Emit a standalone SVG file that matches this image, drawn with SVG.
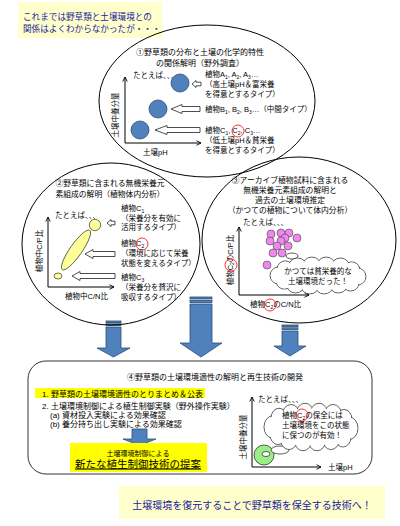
<svg xmlns="http://www.w3.org/2000/svg" width="400" height="526" viewBox="0 0 400 526">
<defs>
<style>
text{font-family:"Liberation Sans","Noto Sans CJK JP",sans-serif;font-size:7.5px;fill:#000}
.t8{font-size:8px}
.ttl{font-size:7.8px}
.blue{fill:#22229a}
.sub{font-size:5px}
.ell{fill:none;stroke:#000;stroke-width:1}
.axis{fill:none;stroke:#000;stroke-width:1;marker-end:url(#ah)}
.hollow{fill:#fff;stroke:#222;stroke-width:0.8}
.big{fill:#4f81bd;stroke:#2c4d75;stroke-width:0.8}
.red{fill:none;stroke:#f00;stroke-width:0.8}
.bdot{fill:#4f81bd;stroke:#2c4d75;stroke-width:0.8}
.ydot{fill:#ffff99;stroke:#333;stroke-width:0.7}
.pdot{fill:#ee88ee;stroke:#444;stroke-width:0.6}
.cs circle{fill:#fff;stroke:#333;stroke-width:0.8}
.cf circle,.cf ellipse{fill:#fff;stroke:none}
.tail{fill:#fff;stroke:#333;stroke-width:0.8}
</style>
<marker id="ah" viewBox="0 0 8 8" refX="7" refY="4" markerWidth="6" markerHeight="6" orient="auto" markerUnits="userSpaceOnUse">
<path d="M1,1 L7,4 L1,7" fill="none" stroke="#000" stroke-width="1.2"/>
</marker>
<g id="cloud">
<g class="cs">
<circle cx="-38" cy="0" r="9" vector-effect="non-scaling-stroke"/>
<circle cx="-32" cy="-7" r="8" vector-effect="non-scaling-stroke"/>
<circle cx="-20" cy="-9" r="9" vector-effect="non-scaling-stroke"/>
<circle cx="-6" cy="-10" r="9" vector-effect="non-scaling-stroke"/>
<circle cx="8" cy="-10" r="9" vector-effect="non-scaling-stroke"/>
<circle cx="22" cy="-9" r="9" vector-effect="non-scaling-stroke"/>
<circle cx="33" cy="-6" r="8" vector-effect="non-scaling-stroke"/>
<circle cx="38" cy="1" r="9" vector-effect="non-scaling-stroke"/>
<circle cx="32" cy="8" r="8" vector-effect="non-scaling-stroke"/>
<circle cx="20" cy="9" r="9" vector-effect="non-scaling-stroke"/>
<circle cx="6" cy="10" r="9" vector-effect="non-scaling-stroke"/>
<circle cx="-8" cy="10" r="9" vector-effect="non-scaling-stroke"/>
<circle cx="-22" cy="9" r="9" vector-effect="non-scaling-stroke"/>
<circle cx="-33" cy="6" r="8" vector-effect="non-scaling-stroke"/>
</g>
<g class="cf">
<circle cx="-38" cy="0" r="8.3"/>
<circle cx="-32" cy="-7" r="7.3"/>
<circle cx="-20" cy="-9" r="8.3"/>
<circle cx="-6" cy="-10" r="8.3"/>
<circle cx="8" cy="-10" r="8.3"/>
<circle cx="22" cy="-9" r="8.3"/>
<circle cx="33" cy="-6" r="7.3"/>
<circle cx="38" cy="1" r="8.3"/>
<circle cx="32" cy="8" r="7.3"/>
<circle cx="20" cy="9" r="8.3"/>
<circle cx="6" cy="10" r="8.3"/>
<circle cx="-8" cy="10" r="8.3"/>
<circle cx="-22" cy="9" r="8.3"/>
<circle cx="-33" cy="6" r="7.3"/>
<ellipse cx="0" cy="0" rx="38" ry="12"/>
</g>
</g>
</defs>

<rect width="400" height="526" fill="#fff"/>

<!-- connectors: big block arrows -->
<g id="connectors">
<rect x="106" y="321" width="15" height="1.6" class="big"/>
<rect x="106" y="323.8" width="15" height="1.6" class="big"/>
<path d="M106,327 H121 V348 H130 L113.5,357 L97,348 H106 Z" class="big"/>
<rect x="190" y="297" width="22" height="2" class="big"/>
<rect x="190" y="300.5" width="22" height="2" class="big"/>
<path d="M190,304 H212 V343 H222 L201,357 L180,343 H190 Z" class="big"/>
<rect x="282" y="325" width="16" height="1.6" class="big"/>
<rect x="282" y="327.8" width="16" height="1.6" class="big"/>
<path d="M282,331 H298 V346 H306 L290,356 L274,346 H282 Z" class="big"/>
</g>

<!-- intro note -->
<g id="intro-note">
<rect x="18" y="2" width="144" height="36" fill="#ffffcc"/>
<text x="23" y="20" class="blue" style="font-size:8.6px">これまでは野草類と土壌環境との</text>
<text x="23" y="32" class="blue" style="font-size:8.6px">関係はよくわからなかったが・・・</text>
</g>

<!-- node 1 -->
<g id="node-field-survey">
<ellipse cx="207" cy="101" rx="108" ry="76" class="ell"/>
<text x="200" y="55" text-anchor="middle" class="t8">①野草類の分布と土壌の化学的特性</text>
<text x="200" y="66" text-anchor="middle" class="t8">の関係解明（野外調査）</text>
<text x="133" y="78">たとえば、、、</text>
<line x1="125" y1="143" x2="125" y2="77" class="axis"/>
<line x1="125" y1="143" x2="201" y2="143" class="axis"/>
<text transform="translate(117.7,115) rotate(-90)" text-anchor="middle">土壌中養分量</text>
<text x="143" y="155">土壌pH</text>
<circle cx="180" cy="83" r="9" class="bdot"/>
<circle cx="158" cy="109" r="9" class="bdot"/>
<circle cx="140" cy="130" r="9" class="bdot"/>
<polygon points="192,84 196,80.5 196,82.2 201,82.2 201,85.8 196,85.8 196,87.5" class="hollow"/>
<polygon points="171,109 182,104.5 182,106.5 200,106.5 200,111.5 182,111.5 182,113.5" class="hollow"/>
<polygon points="155,130 167,125.5 167,127.5 200,127.5 200,132.5 167,132.5 167,134.5" class="hollow"/>
<text x="205" y="77">植物A<tspan class="sub" dy="1.5">1</tspan><tspan dy="-1.5">, A</tspan><tspan class="sub" dy="1.5">2</tspan><tspan dy="-1.5">, A</tspan><tspan class="sub" dy="1.5">3</tspan><tspan dy="-1.5">…</tspan></text>
<text x="205" y="87">（高土壌pH＆富栄養</text>
<text x="205" y="97">を得意とするタイプ）</text>
<text x="205" y="112">植物B<tspan class="sub" dy="1.5">1</tspan><tspan dy="-1.5">, B</tspan><tspan class="sub" dy="1.5">2</tspan><tspan dy="-1.5">, B</tspan><tspan class="sub" dy="1.5">3</tspan><tspan dy="-1.5">…（中間タイプ）</tspan></text>
<text x="205" y="133">植物C<tspan class="sub" dy="1.5">1</tspan><tspan dy="-1.5">,  C</tspan><tspan class="sub" dy="1.5">2</tspan><tspan dy="-1.5">,  C</tspan><tspan class="sub" dy="1.5">3</tspan><tspan dy="-1.5">…</tspan></text>
<text x="205" y="143">（低土壌pH＆貧栄養</text>
<text x="205" y="153">を得意とするタイプ）</text>
<circle cx="238" cy="131" r="6" class="red"/>
</g>

<!-- node 2 -->
<g id="node-plant-analysis">
<ellipse cx="111" cy="244" rx="89" ry="81" class="ell"/>
<text x="110" y="186" text-anchor="middle" class="ttl">②野草類に含まれる無機栄養元</text>
<text x="110" y="197" text-anchor="middle" class="ttl">素組成の解明（植物体内分析）</text>
<text x="55" y="218">たとえば、、、</text>
<line x1="48" y1="287" x2="48" y2="217" class="axis"/>
<line x1="48" y1="287" x2="114" y2="287" class="axis"/>
<text transform="translate(41.7,251) rotate(-90)" text-anchor="middle">植物中C/P比</text>
<text x="65" y="299">植物中C/N比</text>
<circle cx="95" cy="225" r="5.7" class="ydot"/>
<ellipse cx="76" cy="250" rx="24" ry="6" transform="rotate(-55 76 250)" class="ydot"/>
<ellipse cx="58" cy="276" rx="4" ry="3" class="ydot"/>
<polygon points="107,223 111,219.5 111,221.2 115,221.2 115,224.8 111,224.8 111,226.5" class="hollow"/>
<polygon points="85,254 93,249.5 93,251.5 115,251.5 115,256.5 93,256.5 93,258.5" class="hollow"/>
<polygon points="72,276 80,271.5 80,273.5 115,273.5 115,278.5 80,278.5 80,280.5" class="hollow"/>
<text x="121" y="211">植物C<tspan class="sub" dy="1.5">1</tspan></text>
<text x="121" y="221">（栄養分を有効に</text>
<text x="121" y="230">活用するタイプ）</text>
<text x="121" y="246">植物C<tspan class="sub" dy="1.5">2</tspan></text>
<text x="121" y="256">（環境に応じて栄養</text>
<text x="121" y="266">状態を変えるタイプ）</text>
<text x="121" y="280">植物C<tspan class="sub" dy="1.5">3</tspan></text>
<text x="121" y="290">（栄養分を贅沢に</text>
<text x="121" y="300">吸収するタイプ）</text>
<circle cx="142" cy="244" r="6" class="red"/>
</g>

<!-- node 3 -->
<g id="node-archive-analysis">
<ellipse cx="299" cy="240" rx="97" ry="83" class="ell"/>
<text x="290" y="183" text-anchor="middle" class="ttl">③アーカイブ植物試料に含まれる</text>
<text x="290" y="193" text-anchor="middle" class="ttl">無機栄養元素組成の解明と</text>
<text x="290" y="203" text-anchor="middle" class="ttl">過去の土壌環境推定</text>
<text x="290" y="213" text-anchor="middle" class="ttl">（かつての植物について体内分析）</text>
<text x="243" y="225">たとえば、、、</text>
<line x1="239" y1="295" x2="239" y2="227" class="axis"/>
<line x1="239" y1="295" x2="309" y2="295" class="axis"/>
<text transform="translate(232.7,260) rotate(-90)" text-anchor="middle">植物C<tspan class="sub" dy="1.5">2</tspan><tspan dy="-1.5">のC/P比</tspan></text>
<text x="250" y="307">植物C<tspan class="sub" dy="1.5">2</tspan><tspan dy="-1.5">のC/N比</tspan></text>
<circle cx="231" cy="265" r="6" class="red"/>
<circle cx="270" cy="305" r="6" class="red"/>
<circle cx="271" cy="234" r="4" class="pdot"/>
<circle cx="281" cy="233" r="4" class="pdot"/>
<circle cx="289" cy="233" r="4" class="pdot"/>
<circle cx="285" cy="238" r="4" class="pdot"/>
<circle cx="297" cy="238" r="4" class="pdot"/>
<circle cx="270" cy="241" r="4" class="pdot"/>
<circle cx="281" cy="241" r="4" class="pdot"/>
<circle cx="277" cy="246" r="4" class="pdot"/>
<circle cx="288" cy="246" r="4" class="pdot"/>
<circle cx="273" cy="253" r="4" class="pdot"/>
<circle cx="282" cy="253" r="4" class="pdot"/>
<circle cx="267" cy="265" r="4" class="pdot"/>
<ellipse cx="292" cy="256" rx="6" ry="3" class="tail"/>
<use href="#cloud" transform="translate(318,275.5) scale(1.02,0.97)"/>
<text x="318" y="274" text-anchor="middle">かつては貧栄養的な</text>
<text x="318" y="284" text-anchor="middle">土壌環境だった！</text>
</g>

<!-- node 4 -->
<g id="node-regeneration">
<rect x="28" y="361" width="344" height="113" rx="18" ry="18" fill="#fff" stroke="#333" stroke-width="1"/>
<text x="215" y="380" text-anchor="middle" class="t8">④野草類の土壌環境適性の解明と再生技術の開発</text>
<rect x="35" y="388" width="170" height="10" fill="#ffff00"/>
<text x="42" y="396.5" class="t8">1. 野草類の土壌環境適性のとりまとめ＆公表</text>
<text x="42" y="408.5" class="t8">2. 土壌環境制御による植生制御実験（野外操作実験）</text>
<text x="50" y="417.5" class="t8">(a) 資材投入実験による効果確認</text>
<text x="50" y="426.5" class="t8">(b) 養分持ち出し実験による効果確認</text>
<path d="M132,429 H147 V439 H156 L139.5,445.5 L123,439 H132 Z" class="big"/>
<rect x="70" y="443" width="137" height="29" fill="#ffff00"/>
<text x="138" y="456" text-anchor="middle" style="font-size:7px">土壌環境制御による</text>
<text x="138" y="467.5" text-anchor="middle" style="font-size:10.5px" text-decoration="underline">新たな植生制御技術の提案</text>
<text x="258" y="402">たとえば、、、</text>
<line x1="252" y1="467" x2="252" y2="397" class="axis"/>
<line x1="252" y1="467" x2="321" y2="467" class="axis"/>
<text transform="translate(245.7,437) rotate(-90)" text-anchor="middle">土壌中養分量</text>
<text x="328" y="470">土壌pH</text>
<circle cx="264" cy="455" r="10" fill="#99ee88" stroke="#333" stroke-width="0.8"/>
<ellipse cx="266" cy="454" rx="4" ry="2.5" class="tail"/>
<ellipse cx="280" cy="450" rx="9" ry="4" class="tail"/>
<use href="#cloud" transform="translate(311,427) scale(1,1.25)"/>
<text x="282" y="418">植物C<tspan class="sub" dy="1.5">2</tspan><tspan dy="-1.5">の保全には</tspan></text>
<text x="282" y="428">土壌環境をこの状態</text>
<text x="282" y="437.5">に保つのが有効！</text>
<circle cx="302" cy="415" r="6" class="red"/>
</g>

<!-- conclusion note -->
<g id="conclusion-note">
<rect x="119" y="486" width="266" height="33" fill="#ffffcc"/>
<text x="252" y="509" text-anchor="middle" class="blue" style="font-size:10px">土壌環境を復元することで野草類を保全する技術へ！</text>
</g>
</svg>
